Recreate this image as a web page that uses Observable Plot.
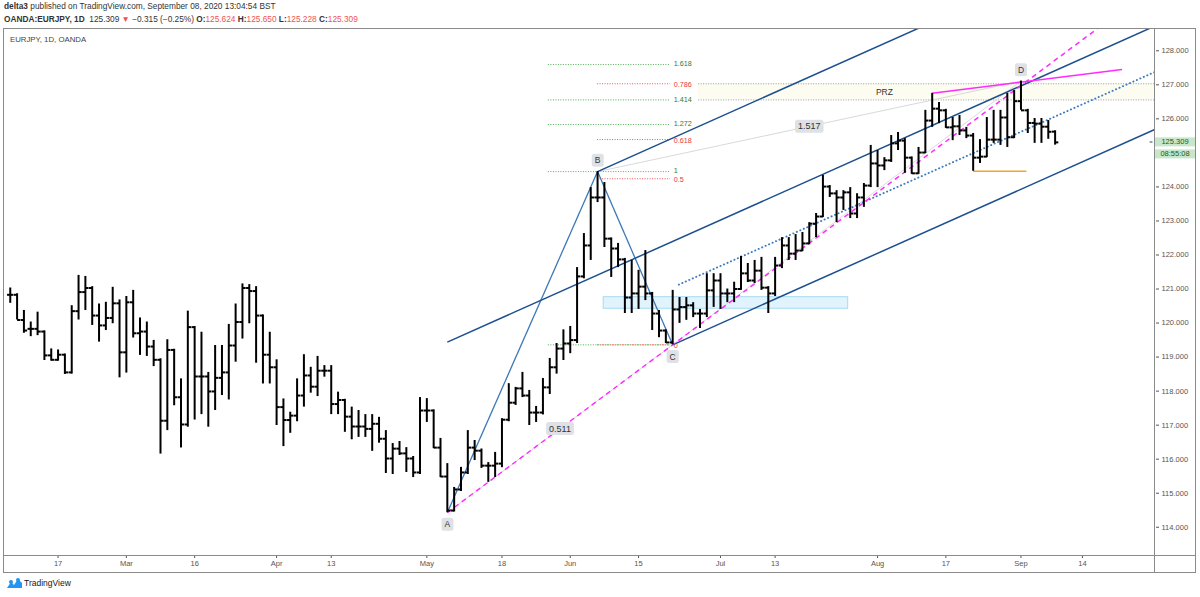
<!DOCTYPE html>
<html><head><meta charset="utf-8">
<script src="https://cdn.jsdelivr.net/npm/d3@7"></script>
<script src="https://cdn.jsdelivr.net/npm/@observablehq/plot@0.6"></script>
<style>
body{margin:0;background:#fff;font-family:"Liberation Sans",Arial,sans-serif;}
#wrap{position:relative;width:1200px;height:597px;overflow:hidden;background:#fff;}
#wrap svg{position:absolute;left:0;top:0;}
.hdr{position:absolute;left:4px;white-space:nowrap;color:#333;font-size:8.3px;z-index:3;}
.red{color:#ef5350}
.box{position:absolute;border:1px solid #8a8a8a;z-index:2;pointer-events:none;}
.hl{position:absolute;background:#8a8a8a;z-index:2;}
</style></head><body><div id="wrap">
<div class="hdr" style="top:1px"><b>delta3</b> published on TradingView.com, September 08, 2020 13:04:54 BST</div>
<div class="hdr" style="top:14px"><b>OANDA:EURJPY, 1D</b>&nbsp; 125.309 <span class="red">▼</span> −0.315 (−0.25%) <b>O:</b><span class="red">125.624</span> <b>H:</b><span class="red">125.650</span> <b>L:</b><span class="red">125.228</span> <b>C:</b><span class="red">125.309</span></div>
<div class="hdr" style="top:35px;left:10px;color:#444;font-size:7.8px">EURJPY, 1D, OANDA</div>
<div class="box" style="left:3px;top:28px;width:1191px;height:543px"></div>
<div class="hl" style="left:3px;top:555px;width:1192px;height:1px"></div>
<div class="hl" style="left:1154px;top:28px;width:1px;height:544px"></div>
<div style="position:absolute;left:7px;top:578px;z-index:3;display:flex;align-items:center;font-size:8.5px;color:#131722">
<svg width="15" height="10" viewBox="0 0 15 10" style="position:static;margin-right:2px"><path d="M0 10 L4 4 L7 7 L11 1 L15 5 L15 10 Z" fill="#2196f3"/><circle cx="4" cy="4" r="2" fill="#2196f3"/><circle cx="11" cy="2" r="2" fill="#2196f3"/></svg>TradingView</div>
</div>
<script>
// ---- data ----
const sessions = ("02-06 02-07 02-10 02-11 02-12 02-13 02-14 02-17 02-18 02-19 02-20 02-21 02-24 02-25 02-26 02-27 02-28 " +
"03-02 03-03 03-04 03-05 03-06 03-09 03-10 03-11 03-12 03-13 03-16 03-17 03-18 03-19 03-20 03-23 03-24 03-25 03-26 03-27 03-30 03-31 " +
"04-01 04-02 04-03 04-06 04-07 04-08 04-09 04-10 04-13 04-14 04-15 04-16 04-17 04-20 04-21 04-22 04-23 04-24 04-27 04-28 04-29 04-30 " +
"05-01 05-04 05-05 05-06 05-07 05-08 05-11 05-12 05-13 05-14 05-15 05-18 05-19 05-20 05-21 05-22 05-25 05-26 05-27 05-28 05-29 " +
"06-01 06-02 06-03 06-04 06-05 06-08 06-09 06-10 06-11 06-12 06-15 06-16 06-17 06-18 06-19 06-22 06-23 06-24 06-25 06-26 06-29 06-30 " +
"07-01 07-02 07-03 07-06 07-07 07-08 07-09 07-10 07-13 07-14 07-15 07-16 07-17 07-20 07-21 07-22 07-23 07-24 07-27 07-28 07-29 07-30 07-31 " +
"08-03 08-04 08-05 08-06 08-07 08-10 08-11 08-12 08-13 08-14 08-17 08-18 08-19 08-20 08-21 08-24 08-25 08-26 08-27 08-28 08-31 " +
"09-01 09-02 09-03 09-04 09-07 09-08 09-09 09-10 09-11 09-14 09-15 09-16 09-17 09-18 09-21 09-22 09-23 09-24 09-25 09-28").split(" ");

const openP = [120.83,120.83,120.09,119.83,119.83,119.75,119.05,118.92,119.07,118.55,120.35,120.91,121.03,120.22,119.93,120.15,120.58,
119.14,120.61,119.70,119.75,119.31,118.92,117.13,119.21,117.82,117.02,119.88,118.43,118.43,117.99,118.39,118.55,119.34,120.03,121.03,120.94,120.22,119.07,
118.70,117.53,117.15,117.28,117.87,118.46,118.13,118.60,118.60,117.62,117.74,117.25,116.96,116.96,116.89,117.04,116.60,116.02,116.31,116.17,116.02,115.61,
117.43,117.43,116.34,115.49,114.49,115.11,115.61,116.34,116.25,115.81,115.81,115.87,117.16,117.66,118.08,117.87,117.37,117.37,118.11,118.70,119.25,
119.40,119.50,121.37,122.28,123.69,123.69,122.48,122.19,121.87,120.75,120.87,121.07,120.87,120.28,119.78,119.43,120.40,120.47,120.52,120.28,120.28,120.96,
121.25,120.87,120.87,121.00,121.46,121.25,121.54,121.04,120.87,121.69,122.28,122.04,122.13,122.34,122.92,123.13,124.01,123.81,123.69,123.84,123.22,123.69,124.04,
124.69,124.63,124.78,125.28,125.36,124.86,124.40,125.01,125.95,126.30,126.25,125.75,125.78,125.66,125.51,124.86,124.89,125.39,125.39,126.04,125.46,
126.52,126.25,125.88,125.86,125.77,125.624];
const highP = [121.03,120.86,120.37,120.03,120.32,119.77,119.24,119.21,119.09,120.51,121.40,121.37,121.07,120.56,120.61,121.05,120.68,
120.78,120.96,120.15,120.03,119.49,118.95,119.51,119.23,118.36,120.35,119.90,119.73,118.55,119.34,119.34,119.96,120.56,121.15,121.13,121.07,120.24,119.73,
118.92,117.77,117.38,118.36,119.07,118.70,119.02,118.75,118.75,117.97,117.76,117.53,117.43,117.31,117.31,117.23,116.84,116.46,116.52,116.34,116.08,117.81,
117.78,117.45,116.61,115.87,115.17,115.76,116.84,116.55,116.30,115.90,116.20,117.19,118.22,118.11,118.55,118.02,117.55,118.37,118.96,119.40,119.80,
119.90,121.63,122.63,123.98,124.45,124.13,122.50,122.34,121.90,121.84,121.55,122.13,120.90,120.37,119.80,120.96,120.75,120.75,120.60,120.40,121.45,121.45,
121.45,121.00,121.20,121.96,121.75,121.84,121.93,121.07,121.93,122.51,122.51,122.60,122.66,122.95,123.22,124.34,124.04,123.89,123.89,123.98,123.80,124.10,125.22,
125.07,124.86,125.51,125.60,125.42,124.88,125.16,126.25,126.75,126.48,126.28,126.04,126.10,125.75,125.57,125.39,126.04,126.25,126.25,126.75,126.83,
127.11,126.28,126.01,126.01,125.95,125.650];
const lowP = [120.58,120.09,119.70,119.60,119.63,118.90,118.88,118.88,118.49,118.50,120.09,120.37,119.93,119.44,119.78,119.98,118.39,
118.53,119.56,119.05,119.02,118.72,116.15,116.84,117.57,116.33,116.94,117.15,117.31,116.94,117.43,117.87,117.74,118.85,119.53,119.98,118.82,118.21,118.21,
116.99,116.37,116.76,117.10,117.53,117.94,117.84,118.41,117.31,117.31,116.79,116.57,116.64,116.64,116.23,116.47,115.58,115.55,116.11,115.61,115.46,115.55,
117.08,116.31,115.46,114.43,114.45,115.05,115.55,115.96,115.73,115.32,115.46,115.75,117.10,117.58,117.81,116.99,117.08,117.30,117.90,118.50,118.90,
119.10,119.40,121.30,121.84,123.54,122.22,121.34,121.63,120.28,120.28,120.40,120.66,119.78,119.57,119.40,119.36,119.99,120.08,120.16,119.84,120.16,120.46,
120.40,120.60,120.60,120.96,121.19,121.16,120.96,120.28,120.78,121.60,121.84,121.84,122.10,122.30,122.51,123.10,123.69,122.95,123.31,123.07,123.07,123.40,123.98,
123.98,124.48,124.72,125.07,124.40,124.37,124.37,124.98,125.75,125.86,125.72,125.36,125.51,125.42,124.46,124.69,124.86,125.28,125.22,125.16,125.42,
126.25,125.57,125.28,125.28,125.40,125.228];
const closeP = [120.83,120.09,119.78,119.83,119.75,119.05,118.92,119.07,118.55,120.35,120.91,121.03,120.22,119.93,120.15,120.58,119.14,
120.61,119.70,119.75,119.31,118.92,117.13,119.21,117.82,117.02,119.88,118.43,118.43,117.99,118.39,118.55,119.34,120.03,121.03,120.94,120.22,119.07,118.70,
117.53,117.15,117.28,117.87,118.46,118.13,118.60,118.60,117.62,117.74,117.25,116.96,116.96,116.89,117.04,116.60,116.02,116.31,116.17,116.02,115.61,117.43,
117.43,116.34,115.49,114.49,115.11,115.61,116.34,116.25,115.81,115.81,115.87,117.16,117.66,118.08,117.87,117.37,117.37,118.11,118.70,119.25,119.40,
119.50,121.37,122.28,123.69,123.69,122.48,122.19,121.87,120.75,120.87,121.07,120.87,120.28,119.78,119.43,120.40,120.47,120.52,120.28,120.28,120.96,121.25,
120.87,120.87,121.00,121.46,121.25,121.54,121.04,120.87,121.69,122.28,122.04,122.13,122.34,122.92,123.13,124.01,123.81,123.69,123.84,123.22,123.69,124.04,124.69,
124.63,124.78,125.28,125.36,124.86,124.40,125.01,125.95,126.30,126.25,125.75,125.78,125.66,125.51,124.86,124.89,125.39,125.39,126.04,125.46,126.52,
126.25,125.88,125.86,125.77,125.62,125.309];

const tickDates  = ["02-17","03-02","03-16","04-01","04-13","05-01","05-18","06-01","06-15","07-01","07-13","08-03","08-17","09-01","09-14"];
const tickLabels = ["17","Mar","16","Apr","13","May","18","Jun","15","Jul","13","Aug","17","Sep","14"];
const priceTicks = [114,115,116,117,118,119,120,121,122,123,124,125,126,127,128];

// ABCD pattern pivots (dates of the A low, B high, C low, D high)
const pivotNames = ["A","B","C","D"];
const pivotDates = ["05-06","06-05","06-22","09-01"];
const ratioLabels = ["0.511","1.517"];

// fibonacci tools (level values)
const greenLevels = [0, 1, 1.272, 1.414, 1.618];
const redLevels = [0, 0.5, 0.618, 0.786];
const redFibTop = 129.12;          // price of the red tool's level 1
const fibStartGreen = 78.8, fibStartRed = 86, fibEnd = 96.7;   // bar positions
const przStart = 100.8;
// support zone (bar span, price span)
const zoneBars = [86.9, 122.7], zonePrices = [120.42, 120.76];
// other drawings: [bar, price] anchors
const dottedStart = [97.9, 121.13];
const magentaSolid = [[135, 126.75], [162.8, 127.45]];
const orangeLine = [[141, 124.46], [148.8, 124.46]];

// ---- build ----
const idx = d => sessions.indexOf(d);
const bars = openP.map((o, i) => ({i, o, h: highP[i], l: lowP[i], c: closeP[i]}));
const pv = pivotDates.map((d, k) => {
  const i = idx(d);
  return {name: pivotNames[k], i, p: (k % 2 === 0) ? lowP[i] : highP[i], low: k % 2 === 0};
});
const [A, B, C, D] = pv;
const tickIdx = tickDates.map(idx);
const labelOf = new Map(tickIdx.map((t, k) => [t, tickLabels[k]]));

// Schiff pitchfork: pivot at A's bar, halfway between A and B
const P0 = {i: A.i, p: (A.p + B.p) / 2};
const M = {i: (B.i + C.i) / 2, p: (B.p + C.p) / 2};
const slope = (M.p - P0.p) / (M.i - P0.i);
const far = 230;
const ext = (pt) => ({i1: pt.i, p1: pt.p, i2: far, p2: pt.p + slope * (far - pt.i)});
const fork = [ext(P0), ext(B), ext(C), ext({i: dottedStart[0], p: dottedStart[1]})];
const acSlope = (C.p - A.p) / (C.i - A.i);
const acLine = [{i1: A.i, p1: A.p, i2: far, p2: A.p + acSlope * (far - A.i)}];

const gPrice = l => C.p + l * (B.p - C.p);
const rPrice = l => C.p + l * (redFibTop - C.p);
const greens = greenLevels.map(l => ({l, p: gPrice(l)}));
const reds = redLevels.map(l => ({l, p: rPrice(l)}));
const przTop = rPrice(0.786), przBot = gPrice(1.414);

const ratioPts = [
  {t: ratioLabels[0], i: (A.i + C.i) / 2, p: (A.p + C.p) / 2},
  {t: ratioLabels[1], i: (B.i + D.i) / 2, p: (B.p + D.p) / 2}
];
const legs = [{a: A, b: B}, {a: B, b: C}];
const faint = [{a: A, b: C}, {a: B, b: D}, {a: C, b: D}];
const boxTexts = new Set([...pivotNames, ...ratioLabels]);

const plot = Plot.plot({
  width: 1200, height: 597,
  marginTop: 28, marginBottom: 42, marginLeft: 3, marginRight: 45,
  style: {background: "transparent", fontFamily: "'Liberation Sans', Arial, sans-serif", fontSize: "7.5px", color: "#555"},
  x: {type: "linear", domain: [-0.99, 167.7], ticks: tickIdx, tickFormat: d => labelOf.get(d), tickSize: 3, tickPadding: 2.5, label: null},
  y: {domain: [113.17, 128.655], axis: "right", ticks: priceTicks, tickFormat: d => d.toFixed(3), tickSize: 3, tickPadding: 3, label: null},
  marks: [
    Plot.rect([0], {x1: zoneBars[0], x2: zoneBars[1], y1: zonePrices[0], y2: zonePrices[1], fill: "#e1f4fd", stroke: "#a8daf4", strokeWidth: 1}),
    Plot.rect([0], {x1: przStart, x2: 167.7, y1: przBot, y2: przTop, fill: "#fcfcf0"}),
    Plot.ruleY([przTop, przBot], {x1: przStart, x2: 167.7, stroke: "#9a9a9a", strokeDasharray: "1,1.5"}),
    Plot.ruleY(greens, {y: "p", x1: fibStartGreen, x2: fibEnd, stroke: "#4caf50", strokeDasharray: "1,1.5"}),
    Plot.ruleY(reds, {y: "p", x1: fibStartRed, x2: fibEnd, stroke: "#ef5350", strokeDasharray: "1,1.5"}),
    Plot.text(greens.filter(d => d.l !== 0), {x: fibEnd + 0.45, y: "p", text: d => String(d.l), textAnchor: "start", fill: "#2e7d32", fontSize: 7.2, dy: -0.5}),
    Plot.text(reds, {x: fibEnd + 0.45, y: "p", text: d => String(d.l), textAnchor: "start", fill: "#e53935", fontSize: 7.2, dy: 0.8}),
    Plot.text(["PRZ"], {x: 128, y: (przTop + przBot) / 2, text: d => d, fill: "#333", fontSize: 8.5}),
    Plot.link(faint, {x1: d => d.a.i, y1: d => d.a.p, x2: d => d.b.i, y2: d => d.b.p, stroke: "#d9d9d9", strokeWidth: 1}),
    Plot.link(legs, {x1: d => d.a.i, y1: d => d.a.p, x2: d => d.b.i, y2: d => d.b.p, stroke: "#3a78b8", strokeWidth: 1.3}),
    Plot.link(fork.slice(0, 3), {x1: "i1", y1: "p1", x2: "i2", y2: "p2", stroke: "#1b4f8f", strokeWidth: 1.5, clip: true}),
    Plot.link(fork.slice(3), {x1: "i1", y1: "p1", x2: "i2", y2: "p2", stroke: "#3d7cc2", strokeWidth: 1.9, strokeDasharray: "0.2,3.6", strokeLinecap: "round", clip: true}),
    Plot.link(acLine, {x1: "i1", y1: "p1", x2: "i2", y2: "p2", stroke: "#ff2bff", strokeWidth: 1.5, strokeDasharray: "5,4", clip: true}),
    Plot.link([magentaSolid], {x1: d => d[0][0], y1: d => d[0][1], x2: d => d[1][0], y2: d => d[1][1], stroke: "#ff2bff", strokeWidth: 1.5}),
    Plot.link([orangeLine], {x1: d => d[0][0], y1: d => d[0][1], x2: d => d[1][0], y2: d => d[1][1], stroke: "#f5a623", strokeWidth: 1.3}),
    Plot.ruleX(bars, {x: "i", y1: "l", y2: "h", stroke: "#000", strokeWidth: 2}),
    Plot.link(bars, {x1: d => d.i - 0.47, x2: "i", y1: "o", y2: "o", stroke: "#000", strokeWidth: 2}),
    Plot.link(bars, {x1: "i", x2: d => d.i + 0.47, y1: "c", y2: "c", stroke: "#000", strokeWidth: 2}),
    Plot.text(pv.filter(d => d.low), {x: "i", y: "p", text: "name", dy: 12, fill: "#333", fontSize: 8.5}),
    Plot.text(pv.filter(d => !d.low), {x: "i", y: "p", text: "name", dy: -11, fill: "#333", fontSize: 8.5}),
    Plot.text(ratioPts, {x: "i", y: "p", text: "t", fill: "#333", fontSize: 9})
  ]
});
document.getElementById("wrap").appendChild(plot);

// rounded grey boxes behind pattern labels
d3.select(plot).selectAll("text").each(function () {
  if (!boxTexts.has(this.textContent) || this.closest('[aria-label$="axis"]')) return;
  const bb = this.getBBox();
  const r = document.createElementNS("http://www.w3.org/2000/svg", "rect");
  r.setAttribute("x", bb.x - 3); r.setAttribute("y", bb.y - 1.5);
  r.setAttribute("width", bb.width + 6); r.setAttribute("height", bb.height + 3);
  r.setAttribute("rx", 2.5); r.setAttribute("fill", "#dfe1e6");
  const tr = this.getAttribute("transform"); if (tr) r.setAttribute("transform", tr);
  this.parentNode.insertBefore(r, this);
});

// last price + countdown tags on the price axis
const ys = plot.scale("y");
const lastY = ys.apply(closeP[closeP.length - 1]);
const svg = d3.select(plot);
const tag = (y, txt) => {
  svg.append("rect").attr("x", 1155).attr("y", y - 4.5).attr("width", 41).attr("height", 9).attr("fill", "#c8e6c9");
  svg.append("text").attr("x", 1175).attr("y", y).attr("dy", "0.35em").attr("text-anchor", "middle")
    .attr("font-size", 7.5).attr("fill", "#1b5e20").text(txt);
};
svg.append("text").attr("x", 1151).attr("y", lastY).attr("dy", "0.35em").attr("font-size", 6).attr("fill", "#555").text("=");
tag(lastY, closeP[closeP.length - 1].toFixed(3));
tag(lastY + 12, "08:55:08");
</script>
</body></html>
